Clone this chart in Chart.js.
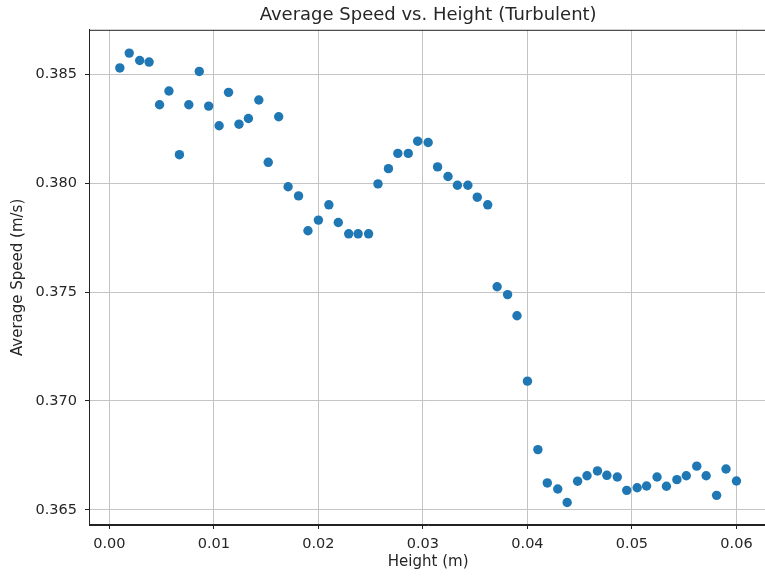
<!DOCTYPE html>
<html>
<head>
<meta charset="utf-8">
<script src="https://cdn.jsdelivr.net/npm/chart.js@4/dist/chart.umd.min.js"></script>
<style>
  html, body { margin: 0; padding: 0; background: #fff; overflow: hidden; }
  canvas { display: block; }
</style>
</head>
<body>
<canvas id="speedChart" width="772" height="577"></canvas>
<script>
// heights (m) of each sample
const heights = [
  0.0010, 0.0019, 0.0029, 0.0038, 0.0048, 0.0057, 0.0067, 0.0076, 0.0086, 0.0095,
  0.0105, 0.0114, 0.0124, 0.0133, 0.0143, 0.0152, 0.0162, 0.0171, 0.0181, 0.0190,
  0.0200, 0.0210, 0.0219, 0.0229, 0.0238, 0.0248, 0.0257, 0.0267, 0.0276, 0.0286,
  0.0295, 0.0305, 0.0314, 0.0324, 0.0333, 0.0343, 0.0352, 0.0362, 0.0371, 0.0381,
  0.0390, 0.0400, 0.0410, 0.0419, 0.0429, 0.0438, 0.0448, 0.0457, 0.0467, 0.0476,
  0.0486, 0.0495, 0.0505, 0.0514, 0.0524, 0.0533, 0.0543, 0.0552, 0.0562, 0.0571,
  0.0581, 0.0590, 0.0600
];
// average speed (m/s) at each height
const speeds = [
  0.38528, 0.38596, 0.38562, 0.38555, 0.38359, 0.38422, 0.38130, 0.38359, 0.38512, 0.38353,
  0.38263, 0.38416, 0.38270, 0.38296, 0.38381, 0.38095, 0.38304, 0.37983, 0.37941, 0.37781,
  0.37830, 0.37900, 0.37819, 0.37767, 0.37767, 0.37767, 0.37996, 0.38066, 0.38136, 0.38136,
  0.38192, 0.38186, 0.38074, 0.38030, 0.37990, 0.37990, 0.37935, 0.37900, 0.37524, 0.37488,
  0.37391, 0.37091, 0.36777, 0.36624, 0.36596, 0.36534, 0.36632, 0.36657, 0.36679, 0.36659,
  0.36651, 0.36590, 0.36602, 0.36610, 0.36651, 0.36609, 0.36639, 0.36657, 0.36701, 0.36657,
  0.36567, 0.36688, 0.36633
];
const xTicks = [0.00, 0.01, 0.02, 0.03, 0.04, 0.05, 0.06];
const yTicks = [0.365, 0.370, 0.375, 0.380, 0.385];

const font = "'DejaVu Sans', sans-serif";
const textColor = "#262626";

// draws the box around the plot area like matplotlib's spines
const frame = {
  id: "frame",
  afterDraw(chart) {
    const a = chart.chartArea, ctx = chart.ctx;
    ctx.save();
    ctx.strokeStyle = "#222";
    ctx.lineWidth = 1;
    ctx.strokeRect(a.left + 0.5, a.top + 0.5, a.right - a.left - 1, a.bottom - a.top - 1);
    ctx.restore();
  }
};

new Chart(document.getElementById("speedChart"), {
  type: "scatter",
  data: {
    datasets: [{
      data: heights.map((h, i) => ({ x: h, y: speeds[i] })),
      backgroundColor: "#1f77b4",
      borderWidth: 0,
      pointRadius: 4.7,
      pointHoverRadius: 4.7
    }]
  },
  plugins: [frame],
  options: {
    responsive: false,
    animation: false,
    layout: { padding: { left: 0, right: 2, top: 0, bottom: 0 } },
    plugins: {
      legend: { display: false },
      tooltip: { enabled: false },
      title: {
        display: true,
        fullSize: false,
        text: "Average Speed vs. Height (Turbulent)",
        color: textColor,
        font: { family: font, size: 18, weight: "normal", lineHeight: 1.1 },
        padding: { top: 5, bottom: 5 }
      }
    },
    scales: {
      x: {
        type: "linear",
        min: -0.00195,
        max: 0.06295,
        afterBuildTicks: s => { s.ticks = xTicks.map(v => ({ value: v })); },
        afterFit: s => { s.height = 52; },
        ticks: {
          color: textColor,
          font: { family: font, size: 14.5 },
          padding: 7,
          maxRotation: 0,
          callback: v => v.toFixed(2)
        },
        grid: { color: "#c4c4c4", lineWidth: 1, tickLength: 4, tickColor: "#222" },
        border: { color: "#222", width: 1 },
        title: {
          display: true,
          text: "Height (m)",
          color: textColor,
          font: { family: font, size: 15 },
          padding: { top: 0, bottom: 6 }
        }
      },
      y: {
        type: "linear",
        min: 0.36431,
        max: 0.38703,
        afterBuildTicks: s => { s.ticks = yTicks.map(v => ({ value: v })); },
        afterFit: s => { s.width = 89; },
        ticks: {
          color: textColor,
          font: { family: font, size: 14.5 },
          padding: 8,
          callback: v => v.toFixed(3)
        },
        grid: { color: "#c4c4c4", lineWidth: 1, tickLength: 4, tickColor: "#222" },
        border: { color: "#222", width: 1 },
        title: {
          display: true,
          text: "Average Speed (m/s)",
          color: textColor,
          font: { family: font, size: 15 },
          padding: { top: 9, bottom: 0 }
        }
      }
    }
  }
});
</script>
</body>
</html>
